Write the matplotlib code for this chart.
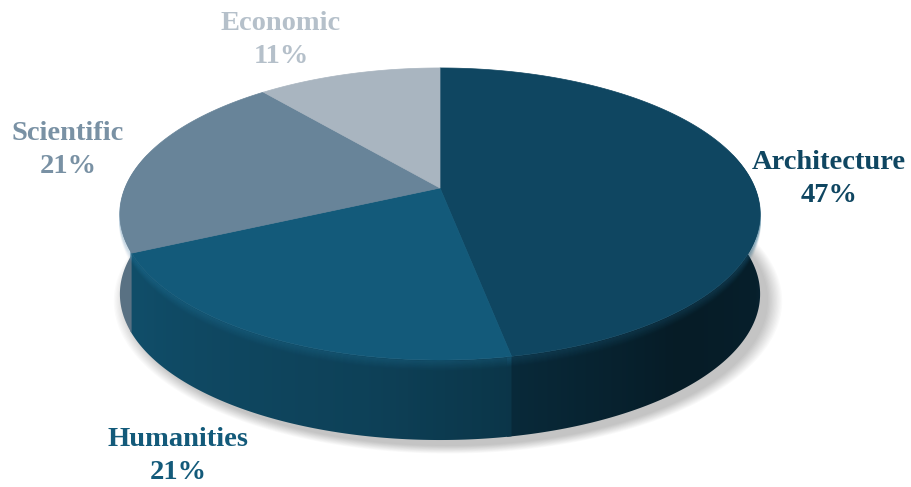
import numpy as np
import matplotlib.pyplot as plt
from matplotlib.patches import Polygon
from matplotlib.colors import to_rgb

labels = ["Architecture", "Humanities", "Scientific", "Economic"]
shares = [47, 21, 21, 11]
top_colors = ["#0f4661", "#135a7a", "#688499", "#a9b5c0"]
label_colors = ["#0f4661", "#135a7a", "#7991a4", "#b5c0ca"]
label_xy = [(829, 179), (178, 456), (68, 150), (281, 40)]

# perspective view of the pie disk (pixel coords)
cx, cy = 440, 188
A, B, k = 315, 141.4, 0.178
depth = 80


def proj(theta, drop=0.0):
    u, v = np.cos(theta), np.sin(theta)
    w = 1 + k * v
    return cx + A * u / w, cy - B * v / w + drop


# brightness of the side wall against its screen x position
th_grid = np.radians(np.linspace(-172, -8, 400))
x_grid = proj(th_grid)[0]
shade_deg = [-180, -150, -100, -80, -50, -20, 0]
shade_val = [0.86, 0.86, 0.72, 0.6, 0.4, 0.45, 0.6]
shade_grid = np.interp(np.degrees(th_grid), shade_deg, shade_val)
xs = np.arange(911) + 0.5
shade_x = np.interp(xs, x_grid, shade_grid)

fig = plt.figure(figsize=(9.11, 4.87), dpi=100)
ax = fig.add_axes([0, 0, 1, 1])
ax.set_xlim(0, 911)
ax.set_ylim(487, 0)
ax.axis("off")

# soft drop shadow under the pie
full = np.linspace(0, 2 * np.pi, 400)
for i in range(12):
    grow = 1 + 0.004 * i
    sx, sy = proj(full, depth)
    sx = cx + 8 + (sx - cx) * grow
    sy = cy + depth + 6 + (sy - cy - depth) * grow
    ax.add_patch(Polygon(np.column_stack([sx, sy]), closed=True,
                         facecolor="#000000", alpha=0.02, lw=0))

# slice angles, clockwise from 12 o'clock
total = sum(shares)
bounds = np.pi / 2 - 2 * np.pi * np.cumsum([0] + shares) / total

# side walls (front half, a bit past the silhouette), horizontal gradient;
# each wall runs slightly under the next one to hide seams
for i, col in enumerate(top_colors):
    a0, a1 = bounds[i], bounds[i + 1]
    lo, hi = max(a1 - 0.012, -np.pi - 0.25), min(a0, 0.25)
    if lo >= hi:
        continue
    th = np.linspace(hi, lo, 240)
    tx, ty = proj(th)
    bx, by = proj(th[::-1], depth)
    wall = Polygon(np.column_stack([np.r_[tx, bx], np.r_[ty, by]]),
                   closed=True, facecolor="none", lw=0)
    ax.add_patch(wall)
    base = np.array(to_rgb(col))
    img = np.clip(base[None, None, :] * shade_x[None, :, None], 0, 1)
    img = np.repeat(img, 2, axis=0)
    im = ax.imshow(img, extent=(0, 911, 487, 0), aspect="auto",
                   interpolation="bilinear", zorder=1 + 0.1 * i)
    im.set_clip_path(wall)
    # rounded rim highlight just below the top edge
    light = np.clip(base * 1.25 + 0.05, 0, 1)
    for d in range(10):
        hx, hy = proj(th, 1 + d)
        ax.plot(hx, hy, color=light, lw=1.3, alpha=0.16 * (1 - d / 10),
                solid_capstyle="butt", zorder=2)

# top faces
for i, col in enumerate(top_colors):
    th = np.linspace(bounds[i], bounds[i + 1], 200)
    px, py = proj(th)
    pts = np.vstack([[cx, cy], np.column_stack([px, py])])
    ax.add_patch(Polygon(pts, closed=True, facecolor=col,
                         edgecolor=col, lw=0.5, zorder=3))

# labels
for name, val, c, (tx, ty) in zip(labels, shares, label_colors, label_xy):
    ax.text(tx, ty, f"{name}\n{val}%", ha="center", va="center",
            fontsize=20.5, fontweight="bold", family="Liberation Serif",
            color=c, linespacing=1.4, zorder=4)

fig.savefig("out.png", dpi=100)
